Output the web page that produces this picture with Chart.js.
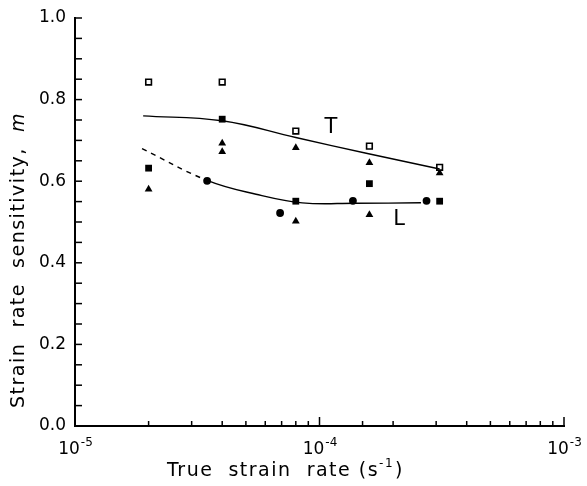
<!DOCTYPE html>
<html>
<head>
<meta charset="utf-8">
<script src="https://cdn.jsdelivr.net/npm/chart.js@4/dist/chart.umd.min.js"></script>
<style>
  html, body { margin: 0; padding: 0; background: #fff; }
  canvas { display: block; }
</style>
</head>
<body>
<canvas id="srsChart" width="587" height="486"></canvas>
<script>
// measured points, strain rate (1/s) vs m
const openSqX = [2e-5, 4e-5, 8e-5, 1.6e-4, 3.1e-4];
const openSqY = [0.843, 0.843, 0.723, 0.686, 0.634];
const filledSqX = [2e-5, 4e-5, 8e-5, 1.6e-4, 3.1e-4];
const filledSqY = [0.632, 0.752, 0.551, 0.594, 0.551];
const triX = [2e-5, 4e-5, 4e-5, 8e-5, 8e-5, 1.6e-4, 1.6e-4, 3.1e-4];
const triY = [0.580, 0.693, 0.672, 0.682, 0.502, 0.645, 0.518, 0.620];
const circX = [3.47e-5, 6.9e-5, 1.37e-4, 2.74e-4];
const circY = [0.601, 0.522, 0.552, 0.552];

// hand-drawn trend curves (T = transverse, L = longitudinal)
const tCurveX = [1.9e-5, 4e-5, 8e-5, 1.57e-4, 3.1e-4];
const tCurveY = [0.760, 0.748, 0.707, 0.668, 0.630];
const lCurveX = [1.88e-5, 3.47e-5, 5.5e-5, 8.5e-5, 1.4e-4, 2.6e-4];
const lCurveY = [0.680, 0.602, 0.568, 0.547, 0.546, 0.547];

const xTickLabels = ["10", "10", "10"];
const xTickExps = ["-5", "-4", "-3"];
const xTickValues = [1e-5, 1e-4, 1e-3];
const yTickLabels = ["0.0", "0.2", "0.4", "0.6", "0.8", "1.0"];
const yTickValues = [0, 0.2, 0.4, 0.6, 0.8, 1.0];

const FONT = "'DejaVu Sans', sans-serif";

function pts(xs, ys) {
  return xs.map((x, i) => ({ x: x, y: ys[i] }));
}

function drawSup(ctx, base, sup, cx, y, baseSize, supSize) {
  ctx.font = baseSize + "px " + FONT;
  const wb = ctx.measureText(base).width;
  ctx.font = supSize + "px " + FONT;
  const ws = ctx.measureText(sup).width;
  let x = cx - (wb + ws) / 2;
  ctx.textAlign = "left";
  ctx.font = baseSize + "px " + FONT;
  ctx.fillText(base, x, y);
  ctx.font = supSize + "px " + FONT;
  ctx.fillText(sup, x + wb + 1, y - baseSize * 0.45);
}

const axisDecor = {
  id: "axisDecor",
  afterDraw(chart) {
    const ctx = chart.ctx;
    const xs = chart.scales.x;
    const ys = chart.scales.y;
    const area = chart.chartArea;
    ctx.save();
    ctx.strokeStyle = "#000";
    ctx.fillStyle = "#000";
    ctx.lineWidth = 1.5;

    // inward tick marks
    xs.ticks.forEach(t => {
      const px = xs.getPixelForValue(t.value);
      const lg = Math.log10(t.value);
      const major = Math.abs(lg - Math.round(lg)) < 1e-6;
      const len = major ? 9 : 5;
      ctx.beginPath();
      ctx.moveTo(px, area.bottom);
      ctx.lineTo(px, area.bottom - len);
      ctx.stroke();
    });
    ys.ticks.forEach(t => {
      const py = ys.getPixelForValue(t.value);
      ctx.beginPath();
      ctx.moveTo(area.left, py);
      ctx.lineTo(area.left + 7, py);
      ctx.stroke();
    });

    // tick labels
    ctx.textBaseline = "alphabetic";
    xTickValues.forEach((v, i) => {
      const px = xs.getPixelForValue(v);
      drawSup(ctx, xTickLabels[i], xTickExps[i], px, area.bottom + 28, 17, 12);
    });
    ctx.font = "17px " + FONT;
    ctx.textAlign = "right";
    ctx.textBaseline = "middle";
    yTickValues.forEach((v, i) => {
      ctx.fillText(yTickLabels[i], area.left - 9, ys.getPixelForValue(v));
    });

    // axis titles
    ctx.letterSpacing = "1.5px";
    ctx.textBaseline = "alphabetic";
    ctx.font = "19px " + FONT;
    const t1 = "True  strain  rate (s";
    const w1 = ctx.measureText(t1).width;
    ctx.font = "12px " + FONT;
    const w2 = ctx.measureText("-1").width;
    ctx.font = "19px " + FONT;
    const w3 = ctx.measureText(")").width;
    let x0 = 285 - (w1 + w2 + w3) / 2;
    ctx.textAlign = "left";
    ctx.fillText(t1, x0, 476);
    ctx.font = "12px " + FONT;
    ctx.fillText("-1", x0 + w1, 467);
    ctx.font = "19px " + FONT;
    ctx.fillText(")", x0 + w1 + w2 + 1, 476);

    ctx.save();
    ctx.translate(24, 260);
    ctx.rotate(-Math.PI / 2);
    const yt = "Strain  rate  sensitivity,  ";
    ctx.font = "19px " + FONT;
    const wy = ctx.measureText(yt).width;
    ctx.font = "italic 19px " + FONT;
    const wm = ctx.measureText("m").width;
    ctx.font = "19px " + FONT;
    ctx.fillText(yt, -(wy + wm) / 2, 0);
    ctx.font = "italic 19px " + FONT;
    ctx.fillText("m", -(wy + wm) / 2 + wy, 0);
    ctx.restore();

    // curve labels
    ctx.letterSpacing = "0px";
    ctx.font = "21px " + FONT;
    ctx.textAlign = "center";
    ctx.textBaseline = "middle";
    ctx.fillText("T", 331, 128);
    ctx.fillText("L", 399, 220);
    ctx.restore();
  }
};

new Chart(document.getElementById("srsChart"), {
  type: "scatter",
  data: {
    datasets: [
      {
        data: pts(tCurveX, tCurveY),
        showLine: true,
        borderColor: "#000",
        borderWidth: 1.4,
        pointRadius: 0,
        tension: 0.4
      },
      {
        data: pts(lCurveX, lCurveY),
        showLine: true,
        borderColor: "#000",
        borderWidth: 1.4,
        pointRadius: 0,
        tension: 0.4,
        segment: {
          borderDash: c => (c.p0DataIndex === 0 ? [5, 5] : undefined)
        }
      },
      {
        data: pts(openSqX, openSqY),
        pointStyle: "rect",
        pointRadius: 4,
        backgroundColor: "#fff",
        borderColor: "#000",
        borderWidth: 1.6
      },
      {
        data: pts(filledSqX, filledSqY),
        pointStyle: "rect",
        pointRadius: 4.8,
        backgroundColor: "#000",
        borderColor: "#000",
        borderWidth: 0
      },
      {
        data: pts(triX, triY),
        pointStyle: "triangle",
        pointRadius: 4.5,
        backgroundColor: "#000",
        borderColor: "#000",
        borderWidth: 0
      },
      {
        data: pts(circX, circY),
        pointStyle: "circle",
        pointRadius: 3.9,
        backgroundColor: "#000",
        borderColor: "#000",
        borderWidth: 0
      }
    ]
  },
  options: {
    responsive: false,
    animation: false,
    layout: { padding: { top: 18, right: 23, left: 0, bottom: 0 } },
    plugins: { legend: { display: false }, tooltip: { enabled: false } },
    scales: {
      x: {
        type: "logarithmic",
        min: 1e-5,
        max: 1e-3,
        grid: { display: false },
        ticks: { display: false },
        border: { display: true, color: "#000", width: 2 },
        afterFit(s) { s.height = 60; }
      },
      y: {
        min: 0,
        max: 1,
        ticks: { display: false, stepSize: 0.05 },
        grid: { display: false },
        border: { display: true, color: "#000", width: 2 },
        afterFit(s) { s.width = 75; }
      }
    }
  },
  plugins: [axisDecor]
});
</script>
</body>
</html>
